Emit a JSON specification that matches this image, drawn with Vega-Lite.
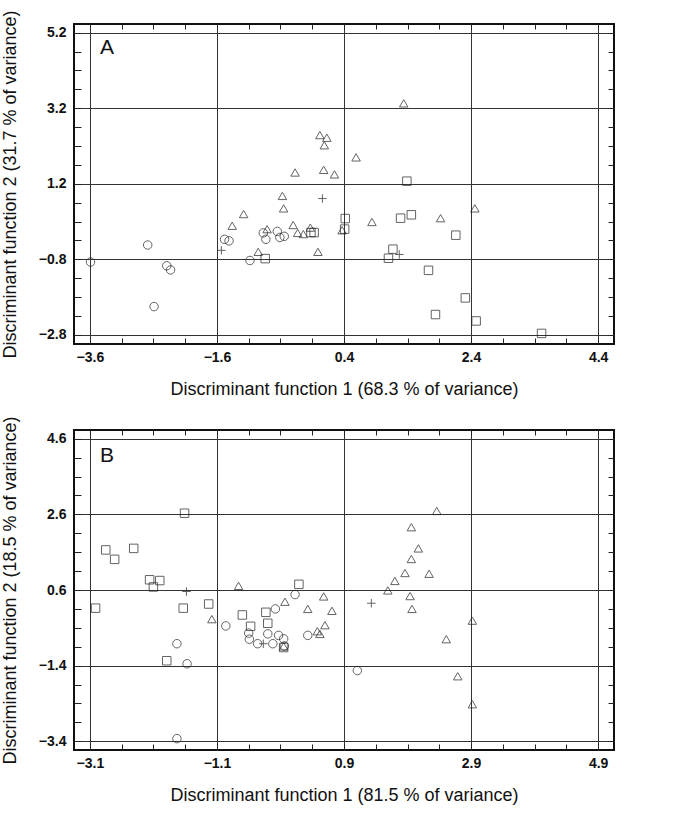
{
  "$schema": "https://vega.github.io/schema/vega-lite/v6.json",
  "padding": {"left": 0, "top": 8, "right": 5, "bottom": 5},
  "datasets": {
    "A": [
      {"g": "circle", "x": -3.59, "y": -0.87}, {"g": "circle", "x": -2.69, "y": -0.42}, {"g": "circle", "x": -2.39, "y": -0.97},
      {"g": "circle", "x": -2.33, "y": -1.08}, {"g": "circle", "x": -2.59, "y": -2.05}, {"g": "circle", "x": -1.48, "y": -0.27},
      {"g": "circle", "x": -1.41, "y": -0.31}, {"g": "circle", "x": -1.08, "y": -0.83}, {"g": "circle", "x": -0.87, "y": -0.10},
      {"g": "circle", "x": -0.83, "y": -0.27}, {"g": "circle", "x": -0.65, "y": -0.06}, {"g": "circle", "x": -0.61, "y": -0.22},
      {"g": "circle", "x": -0.54, "y": -0.19},
      {"g": "triangle", "x": -1.36, "y": 0.09}, {"g": "triangle", "x": -1.18, "y": 0.40}, {"g": "triangle", "x": -0.95, "y": -0.60},
      {"g": "triangle", "x": -0.81, "y": 0.00}, {"g": "triangle", "x": -0.57, "y": 0.88}, {"g": "triangle", "x": -0.55, "y": 0.55},
      {"g": "triangle", "x": -0.40, "y": 0.11}, {"g": "triangle", "x": -0.33, "y": -0.10}, {"g": "triangle", "x": -0.24, "y": -0.13},
      {"g": "triangle", "x": -0.37, "y": 1.50}, {"g": "triangle", "x": -0.13, "y": 0.04}, {"g": "triangle", "x": -0.01, "y": -0.60},
      {"g": "triangle", "x": 0.02, "y": 2.49}, {"g": "triangle", "x": 0.13, "y": 2.42}, {"g": "triangle", "x": 0.09, "y": 2.22},
      {"g": "triangle", "x": 0.08, "y": 1.57}, {"g": "triangle", "x": 0.25, "y": 1.45}, {"g": "triangle", "x": 0.37, "y": -0.03},
      {"g": "triangle", "x": 1.34, "y": 3.33}, {"g": "triangle", "x": 0.59, "y": 1.90}, {"g": "triangle", "x": 0.84, "y": 0.19},
      {"g": "triangle", "x": 1.92, "y": 0.29}, {"g": "triangle", "x": 2.46, "y": 0.55},
      {"g": "square", "x": -0.84, "y": -0.78}, {"g": "square", "x": -0.07, "y": -0.09}, {"g": "square", "x": -0.12, "y": -0.09},
      {"g": "square", "x": 0.42, "y": 0.28}, {"g": "square", "x": 0.41, "y": 0.00}, {"g": "square", "x": 1.39, "y": 1.27},
      {"g": "square", "x": 1.29, "y": 0.29}, {"g": "square", "x": 1.46, "y": 0.38}, {"g": "square", "x": 2.16, "y": -0.16},
      {"g": "square", "x": 1.17, "y": -0.53}, {"g": "square", "x": 1.10, "y": -0.77}, {"g": "square", "x": 1.73, "y": -1.09},
      {"g": "square", "x": 2.31, "y": -1.82}, {"g": "square", "x": 1.84, "y": -2.26}, {"g": "square", "x": 2.48, "y": -2.43},
      {"g": "square", "x": 3.51, "y": -2.76},
      {"g": "plus", "x": -1.53, "y": -0.56}, {"g": "plus", "x": 0.06, "y": 0.81}, {"g": "plus", "x": 1.27, "y": -0.67}
    ],
    "B": [
      {"g": "square", "x": -1.61, "y": 2.63}, {"g": "square", "x": -2.85, "y": 1.66}, {"g": "square", "x": -2.71, "y": 1.41},
      {"g": "square", "x": -2.41, "y": 1.70}, {"g": "square", "x": -2.16, "y": 0.87}, {"g": "square", "x": -2.00, "y": 0.85},
      {"g": "square", "x": -2.10, "y": 0.68}, {"g": "square", "x": -3.01, "y": 0.12}, {"g": "square", "x": -1.63, "y": 0.12},
      {"g": "square", "x": -1.23, "y": 0.23}, {"g": "square", "x": -1.89, "y": -1.27}, {"g": "square", "x": -0.70, "y": -0.06},
      {"g": "square", "x": -0.57, "y": -0.36}, {"g": "square", "x": -0.33, "y": 0.01}, {"g": "square", "x": -0.30, "y": -0.28},
      {"g": "square", "x": 0.19, "y": 0.75}, {"g": "square", "x": -0.05, "y": -0.92},
      {"g": "circle", "x": -1.73, "y": -0.82}, {"g": "circle", "x": -1.57, "y": -1.35}, {"g": "circle", "x": -1.73, "y": -3.33},
      {"g": "circle", "x": -0.96, "y": -0.35}, {"g": "circle", "x": -0.60, "y": -0.54}, {"g": "circle", "x": -0.59, "y": -0.70},
      {"g": "circle", "x": -0.46, "y": -0.82}, {"g": "circle", "x": -0.30, "y": -0.56}, {"g": "circle", "x": -0.22, "y": -0.82},
      {"g": "circle", "x": -0.18, "y": 0.10}, {"g": "circle", "x": -0.13, "y": -0.60}, {"g": "circle", "x": -0.05, "y": -0.69},
      {"g": "circle", "x": -0.04, "y": -0.88}, {"g": "circle", "x": 0.13, "y": 0.48}, {"g": "circle", "x": 0.33, "y": -0.60},
      {"g": "circle", "x": 1.11, "y": -1.53},
      {"g": "triangle", "x": -0.76, "y": 0.71}, {"g": "triangle", "x": -1.18, "y": -0.17}, {"g": "triangle", "x": -0.03, "y": 0.29},
      {"g": "triangle", "x": 0.33, "y": 0.10}, {"g": "triangle", "x": 0.58, "y": 0.43}, {"g": "triangle", "x": 0.71, "y": 0.05},
      {"g": "triangle", "x": 0.60, "y": -0.33}, {"g": "triangle", "x": 0.48, "y": -0.49}, {"g": "triangle", "x": 0.52, "y": -0.56},
      {"g": "triangle", "x": -0.05, "y": -0.89}, {"g": "triangle", "x": 2.36, "y": 2.69}, {"g": "triangle", "x": 1.96, "y": 2.26},
      {"g": "triangle", "x": 2.07, "y": 1.70}, {"g": "triangle", "x": 1.96, "y": 1.42}, {"g": "triangle", "x": 1.86, "y": 1.05},
      {"g": "triangle", "x": 2.24, "y": 1.03}, {"g": "triangle", "x": 1.70, "y": 0.84}, {"g": "triangle", "x": 1.59, "y": 0.59},
      {"g": "triangle", "x": 1.94, "y": 0.44}, {"g": "triangle", "x": 1.97, "y": 0.10}, {"g": "triangle", "x": 2.92, "y": -0.21},
      {"g": "triangle", "x": 2.51, "y": -0.70}, {"g": "triangle", "x": 2.69, "y": -1.68}, {"g": "triangle", "x": 2.92, "y": -2.42},
      {"g": "plus", "x": -1.58, "y": 0.56}, {"g": "plus", "x": -0.37, "y": -0.82}, {"g": "plus", "x": 1.33, "y": 0.25}
    ]
  },
  "vconcat": [
    {
      "width": 540,
      "height": 320,
      "resolve": {"axis": {"x": "independent", "y": "independent"}},
      "layer": [
        {
          "data": {"name": "A"},
          "mark": {"type": "point", "filled": false, "stroke": "#222", "strokeWidth": 1},
          "encoding": {
            "x": {
              "field": "x", "type": "quantitative",
              "scale": {"domain": [-3.85, 4.65], "nice": false, "zero": false},
              "axis": {
                "orient": "bottom",
                "values": [-3.6, -3.1, -2.6, -2.1, -1.6, -1.1, -0.6, -0.1, 0.4, 0.9, 1.4, 1.9, 2.4, 2.9, 3.4, 3.9, 4.4],
                "format": ".1f",
                "labelExpr": "indexof([-3.6, -1.6, 0.4, 2.4, 4.4], datum.value) >= 0 ? datum.label : ''",
                "gridOpacity": {"condition": {"test": "indexof([-3.6, -1.6, 0.4, 2.4, 4.4], datum.value) >= 0", "value": 1}, "value": 0},
                "grid": true, "tickSize": -6, "labelPadding": 12, "labelOverlap": false,
                "title": "Discriminant function 1 (68.3 % of variance)", "titlePadding": 16
              }
            },
            "y": {
              "field": "y", "type": "quantitative",
              "scale": {"domain": [-3.04, 5.43], "nice": false, "zero": false},
              "axis": {
                "orient": "left",
                "values": [-2.8, -2.3, -1.8, -1.3, -0.8, -0.3, 0.2, 0.7, 1.2, 1.7, 2.2, 2.7, 3.2, 3.7, 4.2, 4.7, 5.2],
                "format": ".1f",
                "labelExpr": "indexof([-2.8, -0.8, 1.2, 3.2, 5.2], datum.value) >= 0 ? datum.label : ''",
                "gridOpacity": {"condition": {"test": "indexof([-2.8, -0.8, 1.2, 3.2, 5.2], datum.value) >= 0", "value": 1}, "value": 0},
                "grid": true, "tickSize": -7, "labelPadding": 15, "labelOverlap": false,
                "title": "Discriminant function 2 (31.7 % of variance)", "titlePadding": 19
              }
            },
            "shape": {"field": "g", "type": "nominal", "legend": null,
              "scale": {"domain": ["circle", "square", "triangle", "plus"], "range": ["circle", "square", "triangle-up", "M-1,0L1,0M0,-1L0,1"]}},
            "size": {"field": "g", "type": "nominal", "legend": null,
              "scale": {"domain": ["circle", "square", "triangle", "plus"], "range": [72, 72, 110, 110]}}
          }
        },
        {
          "data": {"values": [{"label": "A"}]},
          "mark": {"type": "text", "fontSize": 21, "font": "Liberation Sans", "color": "#111", "align": "center", "baseline": "middle"},
          "encoding": {
            "text": {"field": "label", "type": "nominal"},
            "x": {"datum": -3.33, "type": "quantitative",
              "axis": {"orient": "top", "values": [-3.6, -3.1, -2.6, -2.1, -1.6, -1.1, -0.6, -0.1, 0.4, 0.9, 1.4, 1.9, 2.4, 2.9, 3.4, 3.9, 4.4], "labels": false, "grid": false, "tickSize": -5, "title": null}},
            "y": {"datum": 4.79, "type": "quantitative",
              "axis": {"orient": "right", "values": [-2.8, -2.3, -1.8, -1.3, -0.8, -0.3, 0.2, 0.7, 1.2, 1.7, 2.2, 2.7, 3.2, 3.7, 4.2, 4.7, 5.2], "labels": false, "grid": false, "tickSize": -6, "title": null}}
          }
        }
      ]
    },
    {
      "width": 540,
      "height": 320,
      "resolve": {"axis": {"x": "independent", "y": "independent"}},
      "layer": [
        {
          "data": {"name": "B"},
          "mark": {"type": "point", "filled": false, "stroke": "#222", "strokeWidth": 1},
          "encoding": {
            "x": {
              "field": "x", "type": "quantitative",
              "scale": {"domain": [-3.35, 5.15], "nice": false, "zero": false},
              "axis": {
                "orient": "bottom",
                "values": [-3.1, -2.6, -2.1, -1.6, -1.1, -0.6, -0.1, 0.4, 0.9, 1.4, 1.9, 2.4, 2.9, 3.4, 3.9, 4.4, 4.9],
                "format": ".1f",
                "labelExpr": "indexof([-3.1, -1.1, 0.9, 2.9, 4.9], datum.value) >= 0 ? datum.label : ''",
                "gridOpacity": {"condition": {"test": "indexof([-3.1, -1.1, 0.9, 2.9, 4.9], datum.value) >= 0", "value": 1}, "value": 0},
                "grid": true, "tickSize": -6, "labelPadding": 12, "labelOverlap": false,
                "title": "Discriminant function 1 (81.5 % of variance)", "titlePadding": 16
              }
            },
            "y": {
              "field": "y", "type": "quantitative",
              "scale": {"domain": [-3.63, 4.83], "nice": false, "zero": false},
              "axis": {
                "orient": "left",
                "values": [-3.4, -2.9, -2.4, -1.9, -1.4, -0.9, -0.4, 0.1, 0.6, 1.1, 1.6, 2.1, 2.6, 3.1, 3.6, 4.1, 4.6],
                "format": ".1f",
                "labelExpr": "indexof([-3.4, -1.4, 0.6, 2.6, 4.6], datum.value) >= 0 ? datum.label : ''",
                "gridOpacity": {"condition": {"test": "indexof([-3.4, -1.4, 0.6, 2.6, 4.6], datum.value) >= 0", "value": 1}, "value": 0},
                "grid": true, "tickSize": -7, "labelPadding": 15, "labelOverlap": false,
                "title": "Discriminant function 2 (18.5 % of variance)", "titlePadding": 19
              }
            },
            "shape": {"field": "g", "type": "nominal", "legend": null,
              "scale": {"domain": ["circle", "square", "triangle", "plus"], "range": ["circle", "square", "triangle-up", "M-1,0L1,0M0,-1L0,1"]}},
            "size": {"field": "g", "type": "nominal", "legend": null,
              "scale": {"domain": ["circle", "square", "triangle", "plus"], "range": [72, 72, 110, 110]}}
          }
        },
        {
          "data": {"values": [{"label": "B"}]},
          "mark": {"type": "text", "fontSize": 21, "font": "Liberation Sans", "color": "#111", "align": "center", "baseline": "middle"},
          "encoding": {
            "text": {"field": "label", "type": "nominal"},
            "x": {"datum": -2.83, "type": "quantitative",
              "axis": {"orient": "top", "values": [-3.1, -2.6, -2.1, -1.6, -1.1, -0.6, -0.1, 0.4, 0.9, 1.4, 1.9, 2.4, 2.9, 3.4, 3.9, 4.4, 4.9], "labels": false, "grid": false, "tickSize": -5, "title": null}},
            "y": {"datum": 4.15, "type": "quantitative",
              "axis": {"orient": "right", "values": [-3.4, -2.9, -2.4, -1.9, -1.4, -0.9, -0.4, 0.1, 0.6, 1.1, 1.6, 2.1, 2.6, 3.1, 3.6, 4.1, 4.6], "labels": false, "grid": false, "tickSize": -6, "title": null}}
          }
        }
      ]
    }
  ],
  "spacing": 15,
  "config": {
    "view": {"stroke": "#111", "strokeWidth": 2},
    "font": "Liberation Sans",
    "axis": {
      "domain": false,
      "tickColor": "#222",
      "tickWidth": 1,
      "gridColor": "#333",
      "gridWidth": 1,
      "labelFont": "Liberation Sans",
      "labelFontWeight": "bold",
      "labelFontSize": 14,
      "labelColor": "#111",
      "titleFont": "Liberation Sans",
      "titleFontWeight": "normal",
      "titleFontSize": 18,
      "titleColor": "#111"
    }
  }
}
